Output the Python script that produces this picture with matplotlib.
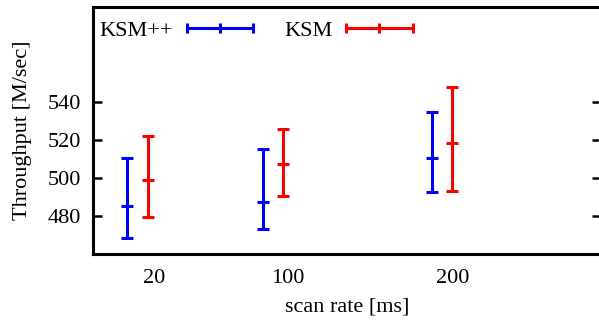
import matplotlib
matplotlib.use("Agg")
import matplotlib.pyplot as plt
from matplotlib.legend_handler import HandlerBase
from matplotlib.lines import Line2D

# scan rate [ms]
scan_rates = [20, 100, 200]
tick_pos = [36, 115, 212]
tick_labels = ["20", "100", "200"]

# throughput [M/sec]: mean, low, high
ksmpp_mean = [485.1, 487.5, 510.4]
ksmpp_low = [468.3, 473.0, 492.6]
ksmpp_high = [510.5, 515.4, 534.9]

ksm_mean = [498.9, 507.4, 518.3]
ksm_low = [479.3, 490.7, 493.3]
ksm_high = [522.3, 525.8, 547.7]

KSM_SHIFT = 12  # red bars sit next to the blue ones

plt.rcParams["font.family"] = ["Liberation Serif", "DejaVu Serif"]
plt.rcParams["font.size"] = 16


class HandlerHBar(HandlerBase):
    # gnuplot-style key sample: horizontal bar with end caps and middle tic
    def create_artists(self, legend, orig_handle, xdescent, ydescent,
                       width, height, fontsize, trans):
        c = orig_handle.get_color()
        y = height / 2 - ydescent
        x0, x1 = -xdescent, width - xdescent
        line = Line2D([x0, x1], [y, y], color=c, lw=2.2)
        tics = Line2D([x0, (x0 + x1) / 2, x1], [y, y, y], ls="none",
                      marker="|", ms=7.5, mew=2.2, color=c)
        line.set_transform(trans)
        tics.set_transform(trans)
        return [line, tics]


fig = plt.figure(figsize=(5.99, 3.21), dpi=100)
ax = fig.add_axes([0.156, 0.209, 0.848, 0.769])


def draw(xs, mean, low, high, color):
    err = [[m - l for m, l in zip(mean, low)], [h - m for m, h in zip(mean, high)]]
    ax.errorbar(xs, mean, yerr=err, fmt="_", color=color, ms=8, mew=2.2,
                elinewidth=2.2, capsize=4, capthick=2.2)


draw(scan_rates, ksmpp_mean, ksmpp_low, ksmpp_high, "#0000ff")
draw([r + KSM_SHIFT for r in scan_rates], ksm_mean, ksm_low, ksm_high, "#ff0000")

ax.set_xlim(0, 300)
ax.set_ylim(460, 590)
ax.set_yticks([480, 500, 520, 540])
ax.set_xticks(tick_pos)
ax.set_xticklabels(tick_labels)
ax.tick_params(axis="y", direction="in", length=6.5, width=1.8, pad=9,
               right=True)
ax.tick_params(axis="x", length=0, pad=11)
for s in ax.spines.values():
    s.set_linewidth(2.2)

ax.set_xlabel("scan rate [ms]", labelpad=7)
ax.set_ylabel("Throughput [M/sec]", labelpad=11)

proxies = [Line2D([], [], color="#0000ff"), Line2D([], [], color="#ff0000")]
ax.legend(proxies, ["KSM++", "KSM"], handler_map={Line2D: HandlerHBar()},
          loc="upper left", bbox_to_anchor=(-0.018, 1.01), ncol=2,
          frameon=False, markerfirst=False, handlelength=3.0,
          handletextpad=0.6, columnspacing=1.4, borderaxespad=0.3)

plt.savefig("out.png", dpi=100)
